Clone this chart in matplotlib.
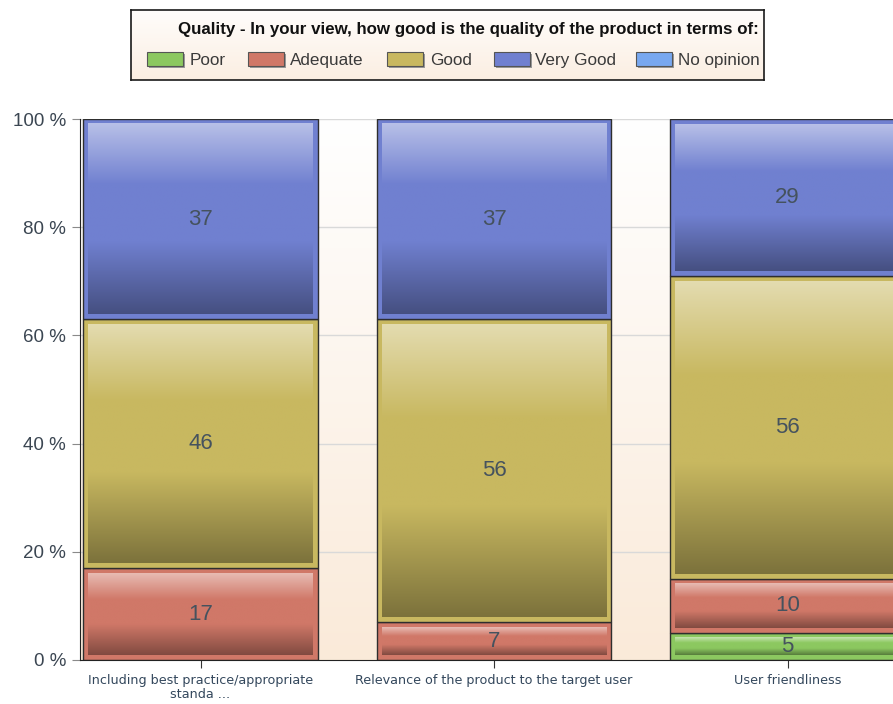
import numpy as np
import matplotlib
matplotlib.use('Agg')
import matplotlib.pyplot as plt
from matplotlib.patches import Rectangle
from matplotlib.colors import to_rgb
from matplotlib import font_manager

# ---------------- data ----------------
categories = ["Including best practice/appropriate\nstanda ...",
              "Relevance of the product to the target user",
              "User friendliness"]
series = ["Poor", "Adequate", "Good", "Very Good", "No opinion"]
poor = [0, 0, 5]
adequate = [17, 7, 10]
good = [46, 56, 56]
very_good = [37, 37, 29]
no_opinion = [0, 0, 0]
yticks = [0, 20, 40, 60, 80, 100]
ytick_labels = [f"{v} %" for v in yticks]
legend_title = "Quality - In your view, how good is the quality of the product in terms of:"
colors = ['#8cc860', '#d07868', '#c8b860', '#7080d0', '#78a8f0']
values = [poor, adequate, good, very_good, no_opinion]

W, H = 893, 704
fig = plt.figure(figsize=(W / 100, H / 100), dpi=100)
fig.patch.set_facecolor('white')

ax_left, ax_right, ax_top, ax_bot = 80, 893, 119, 660
ax = fig.add_axes([ax_left / W, (H - ax_bot) / H, (ax_right - ax_left) / W, (ax_bot - ax_top) / H])

px_per_cat = 293.5
center0 = 200.5
xmin = -(center0 - ax_left) / px_per_cat
xmax = xmin + (ax_right - ax_left) / px_per_cat
px_per_y = (ax_bot - ax_top) / 100.0

# background gradient
bg = np.linspace(0, 1, 256)[:, None]
top_c = np.array(to_rgb('#ffffff'))
bot_c = np.array(to_rgb('#faead9'))
bg_img = (bot_c[None, None, :] * (1 - bg[:, :, None]) + top_c[None, None, :] * bg[:, :, None])
ax.imshow(bg_img, extent=[xmin, xmax, 0, 100], aspect='auto', origin='lower', zorder=0)

for v in yticks[1:]:
    ax.axhline(v, color='#d9d9d9', lw=1, zorder=1)


def seg_gradient(color):
    mid = np.array(to_rgb(color))
    light = mid + (1 - mid) * 0.5
    dark = mid * 0.62
    pos = [0.0, 0.38, 0.68, 1.0]
    cols = [dark, mid, mid, light]
    t = np.linspace(0, 1, 200)
    img = np.zeros((200, 1, 3))
    for c in range(3):
        img[:, 0, c] = np.interp(t, pos, [cc[c] for cc in cols])
    return img


width = 0.8
dx = 5 / px_per_cat
dy = 5 / px_per_y
for i in range(len(categories)):
    bottom = 0
    for s, vals in enumerate(values):
        h = vals[i]
        if h <= 0:
            continue
        x0 = i - width / 2
        ax.add_patch(Rectangle((x0, bottom), width, h, facecolor=colors[s],
                               edgecolor='#2e2e2e', lw=1.0, zorder=2))
        if h > 2 * dy + 0.5:
            ax.imshow(seg_gradient(colors[s]),
                      extent=[x0 + dx, x0 + width - dx, bottom + dy, bottom + h - dy],
                      aspect='auto', origin='lower', zorder=3, interpolation='bilinear')
        ax.text(i, bottom + h / 2, str(h), ha='center', va='center', fontsize=16,
                color='#45525e', zorder=5, family='Liberation Sans')
        bottom += h

ax.set_xlim(xmin, xmax)
ax.set_ylim(0, 100)
ax.set_yticks(yticks)
ax.set_yticklabels(ytick_labels, fontsize=13.5, color='#3b4652', family='Liberation Sans')
ax.set_xticks(range(len(categories)))
ax.set_xticklabels(categories, fontsize=9.2, color='#33475c', family='DejaVu Sans',
                   linespacing=1.15)
ax.tick_params(axis='y', length=6, color='#8a8a8a', pad=4)
ax.tick_params(axis='x', length=6, color='#333333', pad=4)
for sp in ['top', 'right']:
    ax.spines[sp].set_visible(False)
ax.spines['left'].set_color('#222222')
ax.spines['bottom'].set_color('#222222')

# ---------------- legend ----------------
lx0, ly0, lx1, ly1 = 131, 10, 764, 80
lax = fig.add_axes([lx0 / W, (H - ly1) / H, (lx1 - lx0) / W, (ly1 - ly0) / H])
lw_, lh_ = lx1 - lx0, ly1 - ly0
lg = np.linspace(0, 1, 64)[:, None]
ltop = np.array(to_rgb('#fffdfb'))
lbot = np.array(to_rgb('#fbeee2'))
limg = ltop[None, None, :] * (1 - lg[:, :, None]) + lbot[None, None, :] * lg[:, :, None]
lax.imshow(limg, extent=[0, lw_, lh_, 0], aspect='auto', zorder=0)
lax.set_xlim(0, lw_)
lax.set_ylim(lh_, 0)
lax.set_xticks([])
lax.set_yticks([])
for sp in lax.spines.values():
    sp.set_color('#1a1a1a')
    sp.set_linewidth(1.2)

names = {f.name for f in font_manager.fontManager.ttflist}
title_family = 'Liberation Sans Narrow' if 'Liberation Sans Narrow' in names else 'Liberation Sans'
t = lax.text(47, 24, legend_title, ha='left', va='baseline', fontsize=12, fontweight='bold',
             family=title_family, color='#111111')
fig.canvas.draw()
bb = t.get_window_extent()
t.set_fontsize(12 * 577 / bb.width)

sw_x = [16, 117, 256, 363, 505]
tx_x = [59, 159, 299, 404, 547]
for k, name in enumerate(series):
    lax.add_patch(Rectangle((sw_x[k] + 2, 42 + 2), 36, 14, facecolor='#9a9a9a', edgecolor='none', zorder=1))
    lax.add_patch(Rectangle((sw_x[k], 42), 36, 14, facecolor=colors[k], edgecolor='#555555', lw=0.8, zorder=2))
    lax.text(tx_x[k], 55, name, ha='left', va='baseline', fontsize=12.3, color='#3a3a3a',
             family='Liberation Sans', zorder=3)

fig.savefig('out.png', dpi=100)
